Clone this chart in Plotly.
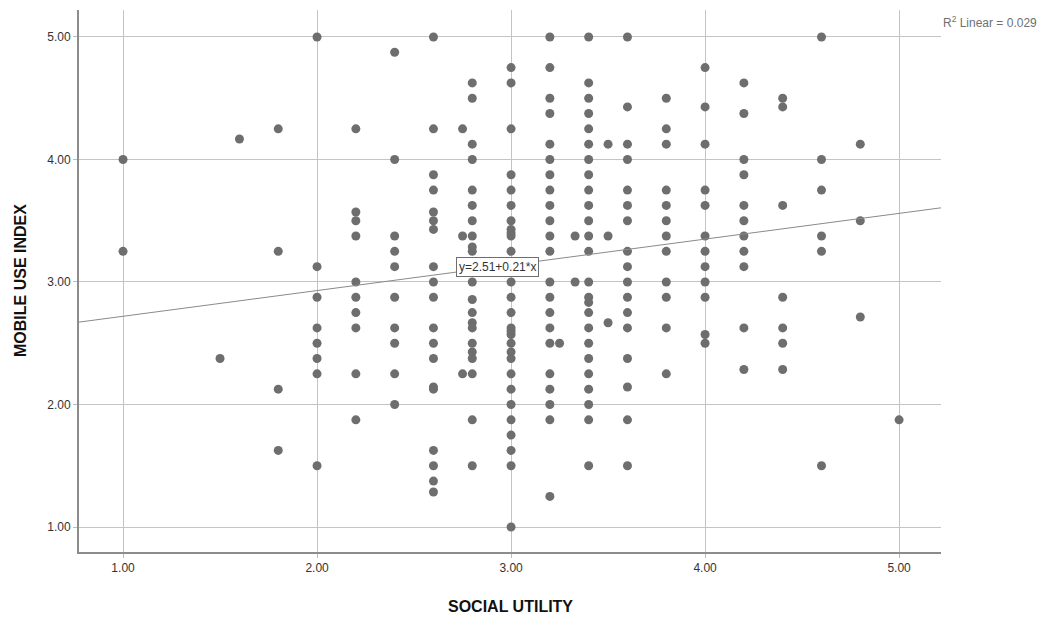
import plotly.graph_objects as go

# Social utility columns and mobile-use-index values observed in each column
social_utility_levels = [1.0, 1.5, 1.6, 1.8, 2.0, 2.2, 2.4, 2.6, 2.75, 2.8, 3.0,
                         3.2, 3.25, 3.33, 3.4, 3.5, 3.6, 3.8, 4.0, 4.2, 4.4, 4.6, 4.8, 5.0]
mobile_use_by_level = [
    [4.0, 3.25],                                                    # 1.0
    [2.375],                                                        # 1.5
    [4.167],                                                        # 1.6
    [4.25, 3.25, 2.125, 1.625],                                     # 1.8
    [5.0, 3.125, 2.875, 2.625, 2.5, 2.375, 2.25, 1.5],              # 2.0
    [4.25, 3.571, 3.5, 3.375, 3.0, 2.875, 2.75, 2.625, 2.25, 1.875],  # 2.2
    [4.875, 4.0, 3.375, 3.25, 3.125, 2.875, 2.625, 2.5, 2.25, 2.0],   # 2.4
    [5.0, 4.25, 3.875, 3.75, 3.571, 3.5, 3.429, 3.125, 3.0, 2.875, 2.625,
     2.5, 2.375, 2.143, 2.125, 1.625, 1.5, 1.375, 1.286],           # 2.6
    [4.25, 3.375, 2.25],                                            # 2.75
    [4.625, 4.5, 4.125, 4.0, 3.75, 3.625, 3.5, 3.375, 3.286, 3.25, 3.125,
     3.0, 2.857, 2.75, 2.667, 2.625, 2.5, 2.429, 2.375, 2.25, 1.875, 1.5],  # 2.8
    [4.75, 4.625, 4.25, 3.875, 3.75, 3.625, 3.5, 3.429, 3.4, 3.375, 3.25,
     3.125, 3.0, 2.875, 2.75, 2.625, 2.6, 2.571, 2.5, 2.429, 2.375, 2.25,
     2.125, 2.0, 1.875, 1.75, 1.625, 1.5, 1.0],                     # 3.0
    [5.0, 4.75, 4.5, 4.375, 4.125, 4.0, 3.875, 3.75, 3.625, 3.5, 3.375,
     3.25, 3.0, 2.875, 2.75, 2.625, 2.5, 2.25, 2.125, 2.0, 1.875, 1.25],  # 3.2
    [2.5],                                                          # 3.25
    [3.375, 3.0],                                                   # 3.33
    [5.0, 4.625, 4.5, 4.375, 4.25, 4.125, 4.0, 3.875, 3.75, 3.625, 3.5,
     3.375, 3.25, 3.0, 2.875, 2.833, 2.75, 2.625, 2.5, 2.375, 2.25, 2.125,
     2.0, 1.875, 1.5],                                              # 3.4
    [4.125, 3.375, 2.667],                                          # 3.5
    [5.0, 4.429, 4.125, 4.0, 3.75, 3.625, 3.5, 3.25, 3.125, 3.0, 2.875,
     2.75, 2.625, 2.375, 2.143, 1.875, 1.5],                        # 3.6
    [4.5, 4.25, 4.125, 3.75, 3.625, 3.5, 3.375, 3.25, 3.0, 2.875, 2.625, 2.25],  # 3.8
    [4.75, 4.429, 4.125, 3.75, 3.625, 3.375, 3.25, 3.125, 3.0, 2.875, 2.571, 2.5],  # 4.0
    [4.625, 4.375, 4.0, 3.875, 3.625, 3.5, 3.375, 3.25, 3.125, 2.625, 2.286],  # 4.2
    [4.5, 4.429, 3.625, 2.875, 2.625, 2.5, 2.286],                  # 4.4
    [5.0, 4.0, 3.75, 3.375, 3.25, 1.5],                             # 4.6
    [4.125, 3.5, 2.714],                                            # 4.8
    [1.875],                                                        # 5.0
]

fit_intercept = 2.51
fit_slope = 0.21
r_squared = 0.029

x_title = "SOCIAL UTILITY"
y_title = "MOBILE USE INDEX"

x_range = [0.773, 5.216]
y_range = [0.796, 5.22]
tick_values = [1, 2, 3, 4, 5]

xs, ys = [], []
for lvl, vals in zip(social_utility_levels, mobile_use_by_level):
    for v in vals:
        xs.append(lvl)
        ys.append(v)

fig = go.Figure()
fig.add_trace(go.Scatter(
    x=xs, y=ys, mode="markers",
    marker=dict(size=9, color="#6e6e6e", line=dict(width=0)),
    showlegend=False, hoverinfo="skip"))

line_x = x_range
line_y = [fit_intercept + fit_slope * v for v in line_x]
fig.add_trace(go.Scatter(
    x=line_x, y=line_y, mode="lines",
    line=dict(color="#8a8a8a", width=1),
    showlegend=False, hoverinfo="skip", cliponaxis=True))

label_x = 2.93
fig.add_annotation(
    x=label_x, y=fit_intercept + fit_slope * label_x, xref="x", yref="y",
    text="y=2.51+0.21*x", showarrow=False,
    font=dict(family="Liberation Sans, Arial", size=12, color="#333333"),
    bgcolor="white", bordercolor="#6e6e6e", borderwidth=1, borderpad=2)

fig.add_annotation(
    x=1.0, y=1.0, xref="paper", yref="paper", xanchor="left", yanchor="top",
    xshift=0, yshift=-2,
    text=f"R<sup>2</sup> Linear = {r_squared:.3f}", showarrow=False,
    font=dict(family="Liberation Sans, Arial", size=12, color="#707070"))

title_font = dict(family="Liberation Sans, Arial", size=16, color="#111111")
fig.add_annotation(
    x=0.5, y=0, xref="paper", yref="paper", xanchor="center", yanchor="middle",
    yshift=-54, text=f"<b>{x_title}</b>", showarrow=False, font=title_font)
fig.add_annotation(
    x=0, y=0.5, xref="paper", yref="paper", xanchor="center", yanchor="middle",
    xshift=-59, textangle=-90, text=f"<b>{y_title}</b>", showarrow=False,
    font=title_font)

axis_common = dict(
    tickvals=tick_values, tickformat=".2f", automargin=False,
    showgrid=True, gridcolor="#c4c4c4", gridwidth=1,
    zeroline=False, showline=True, linecolor="#8c8c8c", linewidth=2,
    ticks="outside", ticklen=4, tickcolor="#bdbdbd",
    tickfont=dict(family="Liberation Sans, Arial", size=12, color="#333333"),
)

fig.update_xaxes(range=x_range, **axis_common)
fig.update_yaxes(range=y_range, **axis_common)

fig.update_layout(
    width=1054, height=618,
    margin=dict(l=79, r=113, t=10, b=66),
    plot_bgcolor="white", paper_bgcolor="white",
)

fig.write_html("out.html")
